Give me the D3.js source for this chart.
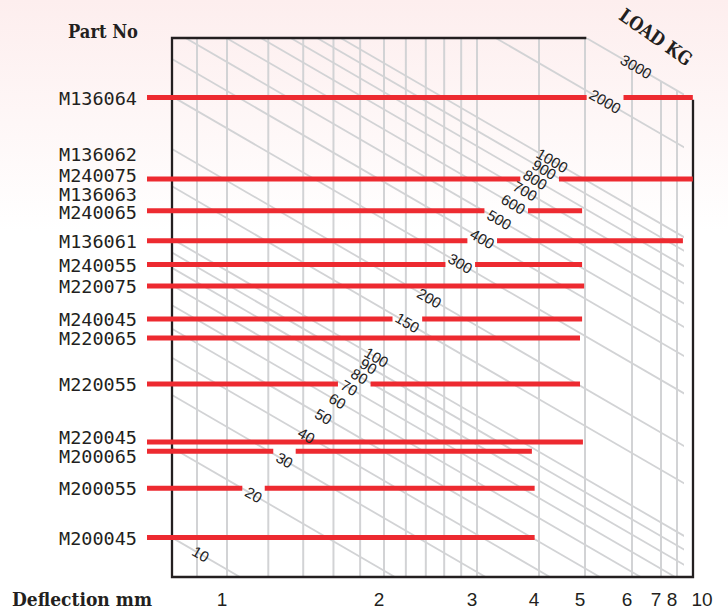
<!DOCTYPE html>
<html><head><meta charset="utf-8">
<script src="https://cdn.jsdelivr.net/npm/d3@7"></script>
<style>html,body{margin:0;padding:0;background:#fff;} svg{display:block}</style>
</head><body>
<svg id="chart" width="728" height="610"></svg>
<script>
// ---------- data ----------
const parts = ["M136064","M136062","M240075","M136063","M240065","M136061","M240055","M220075","M240045","M220065","M220055","M220045","M200065","M200055","M200045"];
const stiffness = [380, 246, 203, 185, 159, 126, 105, 89, 69, 59.6, 41.8, 26.7, 24.9, 18.7, 12.8];
// maximum deflection (mm) of each part (null = no bar)
const maxDeflection = [9.0, null, 9.0, null, 4.93, 8.36, 4.93, 4.98, 4.93, 4.88, 4.88, 4.95, 3.87, 3.92, 3.92];
// load labels that interrupt each part's bar
const gapLoads = [[2000],[],[800,900],[],[500,600],[400],[300],[],[150],[],[70,80],[],[30],[20],[]];
const loads = [10,20,30,40,50,60,70,80,90,100,150,200,300,400,500,600,700,800,900,1000,2000,3000];
const gridDeflections = [0.9,1,1.2,1.4,1.6,1.8,2,2.2,2.4,2.6,2.8,3,4,5,6,7,8];
const tickLabels = [1,2,3,4,5,6,7,8,10];

// ---------- layout ----------
const W = 728, H = 610;
const PL = 172, PR = 693, PT = 38, PB = 577, lineRight = 684, barStart = 147;
const svg = d3.select("#chart");

const defs = svg.append("defs");
const grad = defs.append("linearGradient").attr("id","bg").attr("x1",0).attr("y1",0).attr("x2",0).attr("y2",1);
grad.append("stop").attr("offset","0").attr("stop-color","#fdeeee");
grad.append("stop").attr("offset","0.38").attr("stop-color","#ffffff");
svg.append("rect").attr("width",W).attr("height",H).attr("fill","url(#bg)");

// axis scale (piecewise in log space, as printed)
const axisKnots = [0.9,1,2,3,4,5,6,7,8,10];
const axisPx = [197,227,384,477,539,585,632,661,677,707];
const xLin = d3.scaleLinear().domain(axisKnots.map(Math.log10)).range(axisPx);
const x = d => xLin(Math.log10(d));

// nomogram scales for load lines
const xLog = d3.scaleLog().domain([1,10]).range([227, 742]);
const yK = d3.scaleLog().domain([10,100]).range([868.2-298.7, 868.2-2*298.7]);
const kTop = yK.invert(PT), kBot = yK.invert(PB);

const maxLoad = d3.max(loads);
const cornerX = xLog(maxLoad / kTop);
const cornerY = yK(maxLoad / xLog.invert(PR));
const y3000 = px => yK(maxLoad / xLog.invert(px));

const grey = "#d2d3d5";
const gGrid = svg.append("g");
const gBorder = svg.append("g");
const gBars = svg.append("g");
const gLabels = svg.append("g");

// vertical grid
gGrid.selectAll("line.v").data(gridDeflections).join("line")
  .attr("x1", d => x(d)).attr("x2", d => x(d))
  .attr("y1", d => Math.max(PT, y3000(x(d)))).attr("y2", PB)
  .attr("stroke", grey).attr("stroke-width", 2);

// load lines
defs.append("clipPath").attr("id","clip").append("rect")
  .attr("x",PL).attr("y",PT).attr("width",lineRight-PL).attr("height",PB-PT);
const lineEnds = loads.map(Ld => [[xLog(Ld/kTop), PT],[xLog(Ld/kBot), PB]]);
gGrid.append("g").attr("clip-path","url(#clip)")
  .selectAll("line").data(lineEnds).join("line")
  .attr("x1", d => d[0][0]).attr("y1", d => d[0][1])
  .attr("x2", d => d[1][0]).attr("y2", d => d[1][1])
  .attr("stroke", grey).attr("stroke-width", 1.8);

// border
gBorder.append("path")
  .attr("d", `M${cornerX},${PT}H${PL}V${PB}H${PR}V${cornerY}`)
  .attr("fill","none").attr("stroke","#231f20").attr("stroke-width",2.3);

// load labels along a diagonal path
function intersect(p1,p2,q1,q2){
  const r=[p2[0]-p1[0],p2[1]-p1[1]], u=[q2[0]-q1[0],q2[1]-q1[1]];
  const den = r[0]*u[1]-r[1]*u[0];
  const t = ((q1[0]-p1[0])*u[1]-(q1[1]-p1[1])*u[0])/den;
  return [p1[0]+t*r[0], p1[1]+t*r[1]];
}
const pathA = [199,556], pathB = [199+176, 556-197];
const ang = Math.atan2(PB-PT, lineEnds[0][1][0]-lineEnds[0][0][0]) * 180/Math.PI;
const loadLabel = {};
loads.forEach((Ld,i) => {
  const p = intersect(lineEnds[i][0], lineEnds[i][1], pathA, pathB);
  const t = gLabels.append("text")
    .attr("transform", `translate(${p[0]},${p[1]}) rotate(${ang})`)
    .attr("text-anchor","middle").attr("dy","0.35em")
    .attr("font-family","'Liberation Sans', Arial, sans-serif").attr("font-size",15)
    .attr("fill","#222").text(Ld);
  loadLabel[Ld] = {x:p[0], y:p[1], w:t.node().getComputedTextLength()};
});

// bars
const cosA = Math.cos(ang*Math.PI/180);
parts.forEach((p,i) => {
  if (maxDeflection[i] == null) return;
  const yb = yK(stiffness[i]);
  const end = x(maxDeflection[i]);
  let gaps = gapLoads[i].map(Ld => {
    const lb = loadLabel[Ld]; const h = lb.w*cosA/2 + 4;
    return [lb.x - h, lb.x + h];
  }).sort((a,b)=>a[0]-b[0]);
  const segs = []; let cur = barStart;
  gaps.forEach(g => { if (g[0] > cur) segs.push([cur, g[0]]); cur = Math.max(cur, g[1]); });
  if (end > cur) segs.push([cur, end]);
  gBars.selectAll(null).data(segs).join("line")
    .attr("x1", d => d[0]).attr("x2", d => d[1]).attr("y1", yb).attr("y2", yb)
    .attr("stroke","#ed2a30").attr("stroke-width",5);
});

// part labels with simple collision relaxation
const minGap = 18.5;
const labelY = stiffness.map(k => yK(k) + 1);
for (let it=0; it<80; it++) for (let i=1;i<labelY.length;i++){
  const g = labelY[i]-labelY[i-1];
  if (g < minGap){ const d=(minGap-g)/2; labelY[i-1]-=d; labelY[i]+=d; }
}
gLabels.selectAll("text.part").data(parts).join("text").attr("class","part")
  .attr("x",137).attr("y",(d,i)=>labelY[i]).attr("dy","0.36em")
  .attr("text-anchor","end")
  .attr("font-family","'DejaVu Sans Mono', monospace").attr("font-size",17)
  .attr("textLength",78).attr("lengthAdjust","spacingAndGlyphs")
  .attr("fill","#231f20").text(d=>d);

// axis tick labels
gLabels.selectAll("text.tick").data(tickLabels).join("text").attr("class","tick")
  .attr("x", d => x(d) - 5).attr("y", 606).attr("text-anchor","middle")
  .attr("font-family","'Liberation Sans', Arial, sans-serif").attr("font-size",19)
  .attr("fill","#231f20").text(d=>d);

// titles
const serif = "'DejaVu Serif', serif";
gLabels.append("text").attr("x",138).attr("y",38).attr("text-anchor","end")
  .attr("font-family",serif).attr("font-weight","bold").attr("font-size",19)
  .attr("textLength",70).attr("lengthAdjust","spacingAndGlyphs")
  .attr("fill","#231f20").text("Part No");
gLabels.append("text").attr("x",12).attr("y",606)
  .attr("font-family",serif).attr("font-weight","bold").attr("font-size",19)
  .attr("textLength",140).attr("lengthAdjust","spacingAndGlyphs")
  .attr("fill","#231f20").text("Deflection mm");
gLabels.append("text").attr("transform","translate(656,37) rotate(35)")
  .attr("text-anchor","middle").attr("dy","0.36em")
  .attr("font-family",serif).attr("font-weight","bold").attr("font-size",19)
  .attr("textLength",84).attr("lengthAdjust","spacingAndGlyphs")
  .attr("fill","#231f20").text("LOAD KG");
</script>
</body></html>
